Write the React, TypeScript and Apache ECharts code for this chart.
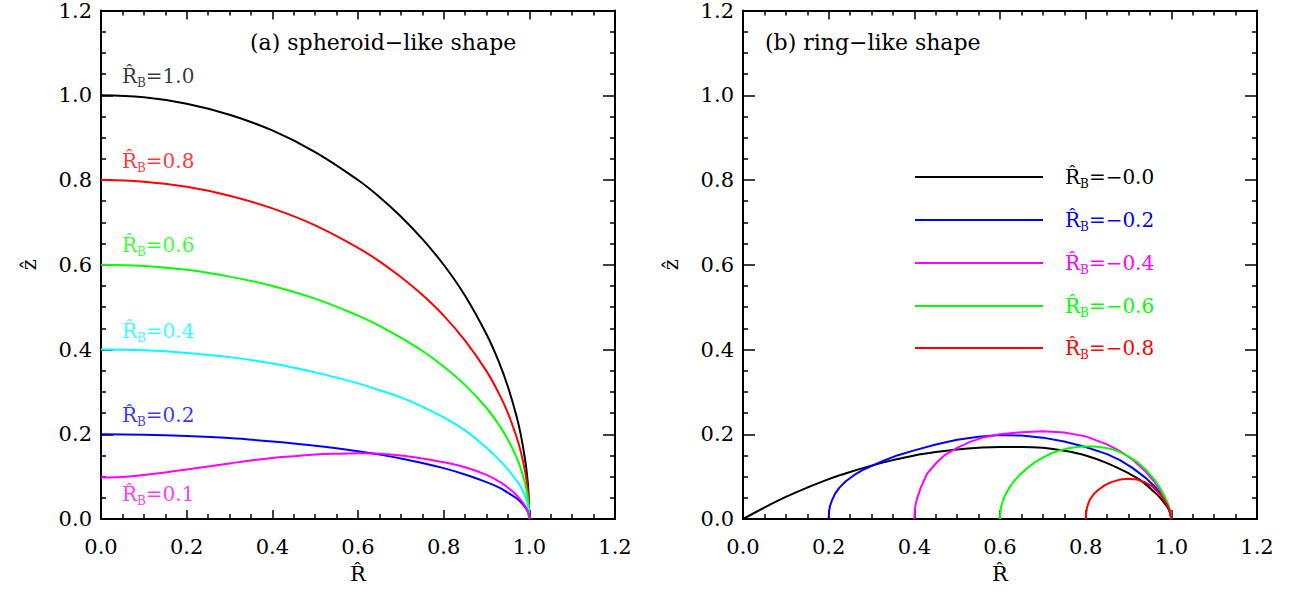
import React, { useEffect, useRef } from 'react';
import * as echarts from 'echarts';

// ---------- data ----------
// Panel (a): spheroid-like shapes
const aX = [0, 0.1, 0.2, 0.3, 0.4, 0.5, 0.6, 0.65, 0.7, 0.75, 0.8, 0.85, 0.9, 0.93, 0.95, 0.97, 0.98, 0.99, 0.995, 0.998, 1.0];
const aRB10 = [1.0, 0.995, 0.980, 0.954, 0.917, 0.866, 0.800, 0.760, 0.714, 0.661, 0.600, 0.527, 0.436, 0.368, 0.312, 0.243, 0.199, 0.141, 0.100, 0.063, 0];
const aRB08 = [0.8, 0.796, 0.784, 0.763, 0.733, 0.693, 0.640, 0.608, 0.571, 0.529, 0.480, 0.421, 0.349, 0.294, 0.250, 0.194, 0.159, 0.113, 0.080, 0.050, 0];
const aRB06 = [0.6, 0.597, 0.588, 0.572, 0.550, 0.520, 0.480, 0.456, 0.428, 0.397, 0.360, 0.316, 0.262, 0.221, 0.187, 0.146, 0.119, 0.085, 0.060, 0.038, 0];
const aRB04 = [0.4, 0.398, 0.392, 0.382, 0.367, 0.346, 0.320, 0.304, 0.287, 0.265, 0.240, 0.209, 0.168, 0.139, 0.117, 0.091, 0.076, 0.054, 0.038, 0.024, 0];
const aRB02 = [0.2, 0.199, 0.196, 0.191, 0.183, 0.173, 0.160, 0.152, 0.143, 0.132, 0.120, 0.105, 0.087, 0.074, 0.062, 0.049, 0.040, 0.028, 0.020, 0.013, 0];
const aRB01 = [
  [0, 0.098], [0.05, 0.099], [0.1, 0.104], [0.15, 0.110], [0.2, 0.117], [0.25, 0.124], [0.3, 0.131],
  [0.35, 0.138], [0.4, 0.144], [0.45, 0.148], [0.5, 0.152], [0.55, 0.154], [0.6, 0.155], [0.65, 0.154],
  [0.7, 0.150], [0.75, 0.143], [0.8, 0.134], [0.85, 0.122], [0.9, 0.104], [0.93, 0.088], [0.96, 0.066],
  [0.98, 0.045], [0.99, 0.031], [0.995, 0.021], [0.998, 0.012], [1.0, 0],
];
const aLabelText = ['1.0', '0.8', '0.6', '0.4', '0.2', '0.1'];
const aLabelX = [0.049, 0.049, 0.049, 0.049, 0.049, 0.049];
const aLabelY = [1.046, 0.845, 0.647, 0.444, 0.245, 0.058];
const aColors = ['#000000', '#ff0000', '#00ff00', '#00ffff', '#0000ff', '#ff00ff'];

// Panel (b): ring-like shapes
const bRB00 = [
  [0, 0], [0.05, 0.027], [0.1, 0.052], [0.15, 0.074], [0.2, 0.094], [0.25, 0.111], [0.3, 0.126],
  [0.35, 0.139], [0.4, 0.150], [0.45, 0.158], [0.5, 0.164], [0.55, 0.168], [0.6, 0.170], [0.65, 0.170],
  [0.7, 0.168], [0.75, 0.161], [0.8, 0.150], [0.85, 0.132], [0.9, 0.108], [0.93, 0.090], [0.96, 0.064],
  [0.975, 0.049], [0.985, 0.036], [0.995, 0.020], [1.0, 0],
];
const bRB02 = [
  [0.2, 0], [0.201, 0.018], [0.203, 0.030], [0.207, 0.042], [0.215, 0.060], [0.225, 0.074], [0.24, 0.089],
  [0.26, 0.104], [0.28, 0.116], [0.30, 0.125], [0.33, 0.138], [0.36, 0.150], [0.4, 0.162], [0.45, 0.176],
  [0.5, 0.187], [0.55, 0.194], [0.6, 0.198], [0.65, 0.197], [0.7, 0.192], [0.75, 0.183], [0.8, 0.170],
  [0.85, 0.153], [0.88, 0.139], [0.91, 0.120], [0.94, 0.097], [0.96, 0.078], [0.975, 0.060], [0.985, 0.044],
  [0.993, 0.029], [0.998, 0.014], [1.0, 0],
];
const bRB04 = [
  [0.4, 0], [0.401, 0.020], [0.403, 0.035], [0.407, 0.050], [0.415, 0.074], [0.43, 0.107], [0.45, 0.131],
  [0.47, 0.150], [0.5, 0.168], [0.53, 0.182], [0.56, 0.192], [0.6, 0.200], [0.65, 0.205], [0.7, 0.207],
  [0.75, 0.204], [0.8, 0.195], [0.85, 0.176], [0.88, 0.160], [0.91, 0.140], [0.94, 0.112], [0.96, 0.088],
  [0.975, 0.066], [0.985, 0.048], [0.993, 0.032], [0.998, 0.016], [1.0, 0],
];
const bRB06 = [
  [0.6, 0], [0.601, 0.017], [0.603, 0.030], [0.606, 0.040], [0.61, 0.052], [0.62, 0.071], [0.63, 0.086],
  [0.645, 0.103], [0.66, 0.117], [0.68, 0.133], [0.70, 0.145], [0.72, 0.155], [0.74, 0.162], [0.76, 0.167],
  [0.78, 0.170], [0.80, 0.171], [0.82, 0.171], [0.84, 0.169], [0.86, 0.165], [0.88, 0.158], [0.90, 0.148],
  [0.92, 0.135], [0.94, 0.117], [0.96, 0.094], [0.975, 0.071], [0.985, 0.052], [0.993, 0.033],
  [0.998, 0.016], [1.0, 0],
];
const bRB08 = [
  [0.8, 0], [0.801, 0.014], [0.803, 0.026], [0.806, 0.036], [0.81, 0.046], [0.82, 0.060], [0.83, 0.069],
  [0.845, 0.080], [0.86, 0.087], [0.88, 0.093], [0.90, 0.095], [0.92, 0.093], [0.94, 0.086], [0.955, 0.077],
  [0.97, 0.062], [0.98, 0.050], [0.99, 0.034], [0.996, 0.020], [1.0, 0],
];
const bNames = ['b00', 'b02', 'b04', 'b06', 'b08'];
const bLegendText = ['\u22120.0', '\u22120.2', '\u22120.4', '\u22120.6', '\u22120.8'];
const bColors = ['#000000', '#0000ff', '#ff00ff', '#00ff00', '#ff0000'];
const bLegendTop = [162, 205, 248, 291, 333];

const FONT = 'DejaVu Serif';

function richFor(color?: string) {
  const base: any = { fontFamily: FONT, fontSize: 20, lineHeight: 26 };
  const sub: any = { fontFamily: FONT, fontSize: 12, verticalAlign: 'bottom', lineHeight: 22 };
  if (color) { base.color = color; sub.color = color; }
  return { r: base, s: sub };
}
const rbText = (v: string) => `{r|R\u0302}{s|B}{r|=${v}}`;

export default function App() {
  const ref = useRef<HTMLDivElement>(null);
  useEffect(() => {
    document.body.style.margin = '0';
    const chart = echarts.init(ref.current!, undefined, { renderer: 'svg' });

    const grids = [
      { left: 101, top: 5, width: 514, height: 514 },
      { left: 743, top: 5, width: 514, height: 514 },
    ];
    const mkX = (gi: number, pos: 'bottom' | 'top', labels: boolean): any => ({
      type: 'value', gridIndex: gi, position: pos, min: 0, max: 1.2, interval: 0.2,
      axisLine: { show: true, onZero: false, lineStyle: { color: '#000', width: 2 } },
      axisTick: { show: true, inside: true, length: 9, lineStyle: { color: '#000', width: 1.5 } },
      minorTick: { show: true, splitNumber: 4, length: 5, lineStyle: { color: '#000', width: 1.5 } },
      splitLine: { show: false },
      axisLabel: {
        show: labels, margin: 17, color: '#000', fontFamily: FONT, fontSize: 21,
        formatter: (v: number) => v.toFixed(1),
      },
      name: labels ? 'R\u0302' : '', nameLocation: 'middle', nameGap: 44,
      nameTextStyle: { fontFamily: FONT, fontSize: 21, color: '#000' },
    });
    const mkY = (gi: number, pos: 'left' | 'right', labels: boolean): any => ({
      type: 'value', gridIndex: gi, position: pos, min: 0, max: 1.2, interval: 0.2,
      axisLine: { show: true, onZero: false, lineStyle: { color: '#000', width: 2 } },
      axisTick: { show: true, inside: true, length: 12, lineStyle: { color: '#000', width: 1.5 } },
      minorTick: { show: true, splitNumber: 4, length: 5, lineStyle: { color: '#000', width: 1.5 } },
      splitLine: { show: false },
      axisLabel: {
        show: labels, margin: 9, color: '#000', fontFamily: FONT, fontSize: 21,
        formatter: (v: number) => v.toFixed(1),
      },
      name: labels ? 'z\u0302' : '', nameLocation: 'middle', nameGap: 62, nameRotate: 90,
      nameTextStyle: { fontFamily: FONT, fontSize: 21, color: '#000' },
    });

    const aSeriesVals = [aRB10, aRB08, aRB06, aRB04, aRB02];
    const series: any[] = [];
    aSeriesVals.forEach((vals, i) => {
      series.push({
        type: 'line', name: 'a' + i, xAxisIndex: 0, yAxisIndex: 0, symbol: 'none', smooth: 0.4,
        data: aX.map((x, k) => [x, vals[k]]),
        lineStyle: { color: aColors[i], width: 2 },
      });
    });
    series.push({
      type: 'line', name: 'a5', xAxisIndex: 0, yAxisIndex: 0, symbol: 'none', smooth: 0.4,
      data: aRB01, lineStyle: { color: aColors[5], width: 2 },
    });
    series.push({
      type: 'scatter', name: 'aLabels', xAxisIndex: 0, yAxisIndex: 0, symbolSize: 0, silent: true,
      data: aLabelText.map((t, i) => ({
        value: [aLabelX[i], aLabelY[i]],
        name: t,
        label: { color: aColors[i] },
      })),
      label: {
        show: true, position: 'right', distance: 0,
        formatter: (p: any) => rbText(p.name),
        rich: richFor(),
      },
    });
    [bRB00, bRB02, bRB04, bRB06, bRB08].forEach((d, i) => {
      series.push({
        type: 'line', name: bNames[i], xAxisIndex: 2, yAxisIndex: 2, symbol: 'none', smooth: i === 0 ? 0.4 : 0,
        data: d, lineStyle: { color: bColors[i], width: 2 }, itemStyle: { color: bColors[i] },
      });
    });

    const legends = bNames.map((n, i) => ({
      data: [n], left: 910, top: bLegendTop[i], orient: 'vertical', icon: 'rect',
      itemWidth: 128, itemHeight: 2, selectedMode: false,
      itemStyle: { color: bColors[i] },
      formatter: () => rbText(bLegendText[i]),
      textStyle: { color: bColors[i], padding: [0, 0, 0, 17], rich: richFor(bColors[i]) },
    }));

    chart.setOption({
      animation: false,
      textStyle: { fontFamily: FONT },
      grid: grids,
      xAxis: [mkX(0, 'bottom', true), mkX(0, 'top', false), mkX(1, 'bottom', true), mkX(1, 'top', false)],
      yAxis: [mkY(0, 'left', true), mkY(0, 'right', false), mkY(1, 'left', true), mkY(1, 'right', false)],
      legend: legends,
      series,
      graphic: [
        { type: 'text', left: 250, top: 31, style: { text: '(a) spheroid\u2212like shape', font: `22px "${FONT}"`, fill: '#000' } },
        { type: 'text', left: 765, top: 31, style: { text: '(b) ring\u2212like shape', font: `22px "${FONT}"`, fill: '#000' } },
      ],
    });
    return () => chart.dispose();
  }, []);
  return <div ref={ref} style={{ width: 1294, height: 592 }} />;
}
